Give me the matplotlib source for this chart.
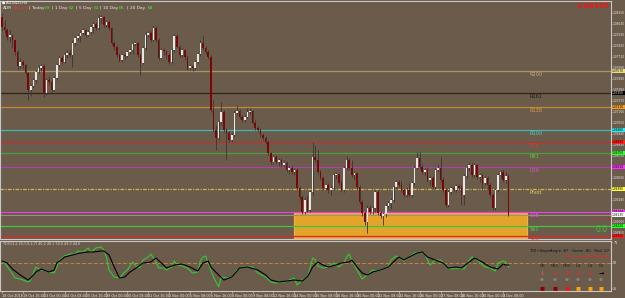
import matplotlib
matplotlib.use('Agg')
import matplotlib.pyplot as plt
import matplotlib.transforms as mtransforms
from matplotlib.patches import Rectangle
import numpy as np

# ---- data (AUDNZD H4) ----
first_open = 1.0811
close = [1.0801, 1.0798, 1.0791, 1.0793, 1.0788, 1.0776, 1.0762, 1.0766, 1.0763, 1.0755,
         1.0738, 1.0742, 1.0748, 1.0756, 1.0760, 1.0762, 1.0735, 1.0748, 1.0746, 1.0738,
         1.0750, 1.0763, 1.0770, 1.0766, 1.0773, 1.0775, 1.0773, 1.0785, 1.0790, 1.0792,
         1.0795, 1.0798, 1.0793, 1.0796, 1.0801, 1.0804, 1.0800, 1.0810, 1.0811, 1.0803,
         1.0806, 1.0800, 1.0785, 1.0781, 1.0773, 1.0768, 1.0773, 1.0772, 1.0776, 1.0778,
         1.0784, 1.0785, 1.0773, 1.0765, 1.0780, 1.0793, 1.0795, 1.0788, 1.0800, 1.0788,
         1.0770, 1.0778, 1.0777, 1.0773, 1.0766, 1.0778, 1.0792, 1.0781, 1.0773, 1.0778,
         1.0771, 1.0760, 1.0762, 1.0760, 1.0766, 1.0774, 1.0785, 1.0780, 1.0776, 1.0771,
         1.0718, 1.0698, 1.0690, 1.0706, 1.0716, 1.0698, 1.0695, 1.0688, 1.0693, 1.0715,
         1.0717, 1.0711, 1.0708, 1.0711, 1.0716, 1.0717, 1.0705, 1.0700, 1.0698, 1.0693,
         1.0690, 1.0686, 1.0675, 1.0666, 1.0671, 1.0666, 1.0668, 1.0663, 1.0665, 1.0658,
         1.0660, 1.0656, 1.0658, 1.0640, 1.0631, 1.0616, 1.0628, 1.0618, 1.0636, 1.0671,
         1.0668, 1.0656, 1.0650, 1.0640, 1.0643, 1.0638, 1.0640, 1.0653, 1.0654, 1.0645,
         1.0638, 1.0660, 1.0668, 1.0660, 1.0653, 1.0655, 1.0641, 1.0626, 1.0615, 1.0606,
         1.0620, 1.0616, 1.0620, 1.0636, 1.0615, 1.0612, 1.0614, 1.0622, 1.0625, 1.0628,
         1.0641, 1.0646, 1.0643, 1.0638, 1.0633, 1.0638, 1.0633, 1.0645, 1.0660, 1.0670,
         1.0661, 1.0656, 1.0658, 1.0648, 1.0650, 1.0641, 1.0658, 1.0660, 1.0648, 1.0638,
         1.0623, 1.0636, 1.0640, 1.0638, 1.0642, 1.0640, 1.0633, 1.0652, 1.0660, 1.0663,
         1.0653, 1.0663, 1.0651, 1.0653, 1.0645, 1.0650, 1.0643, 1.0633, 1.0620, 1.0638,
         1.0653, 1.0656, 1.0648, 1.0652, 1.06135]
high = [1.0815, 1.0808, 1.0800, 1.0798, 1.0792, 1.0788, 1.0778, 1.0770, 1.0768, 1.0764,
        1.0756, 1.0744, 1.0750, 1.0758, 1.0763, 1.0764, 1.0764, 1.0750, 1.0752, 1.0749,
        1.0752, 1.0765, 1.0772, 1.0772, 1.0776, 1.0778, 1.0779, 1.0788, 1.0792, 1.0794,
        1.0798, 1.0800, 1.0799, 1.0798, 1.0803, 1.0806, 1.0806, 1.0813, 1.0813, 1.0812,
        1.0808, 1.0808, 1.0801, 1.0787, 1.0783, 1.0775, 1.0775, 1.0775, 1.0778, 1.0780,
        1.0786, 1.0787, 1.0786, 1.0774, 1.0782, 1.0796, 1.0797, 1.0797, 1.0803, 1.0802,
        1.0790, 1.0780, 1.0780, 1.0778, 1.0775, 1.0780, 1.0794, 1.0794, 1.0783, 1.0780,
        1.0779, 1.0773, 1.0764, 1.0763, 1.0768, 1.0776, 1.0788, 1.0792, 1.0782, 1.0778,
        1.0773, 1.0728, 1.0703, 1.0708, 1.0726, 1.0718, 1.0700, 1.0697, 1.0696, 1.0718,
        1.0723, 1.0719, 1.0713, 1.0713, 1.0720, 1.0720, 1.0718, 1.0708, 1.0702, 1.0700,
        1.0695, 1.0692, 1.0688, 1.0676, 1.0673, 1.0673, 1.0670, 1.0670, 1.0668, 1.0667,
        1.0662, 1.0662, 1.0660, 1.0660, 1.0642, 1.0633, 1.0630, 1.0633, 1.0638, 1.0686,
        1.0683, 1.0678, 1.0658, 1.0652, 1.0645, 1.0645, 1.0642, 1.0655, 1.0656, 1.0655,
        1.0648, 1.0662, 1.0672, 1.0670, 1.0668, 1.0657, 1.0656, 1.0643, 1.0628, 1.0617,
        1.0623, 1.0623, 1.0622, 1.0638, 1.0638, 1.0617, 1.0616, 1.0624, 1.0627, 1.0630,
        1.0643, 1.0648, 1.0648, 1.0647, 1.0640, 1.0641, 1.0645, 1.0647, 1.0662, 1.0676,
        1.0676, 1.0664, 1.0660, 1.0661, 1.0652, 1.0652, 1.0660, 1.0663, 1.0671, 1.0651,
        1.0640, 1.0638, 1.0642, 1.0642, 1.0644, 1.0644, 1.0643, 1.0654, 1.0662, 1.0666,
        1.0665, 1.0665, 1.0664, 1.0655, 1.0655, 1.0652, 1.0652, 1.0645, 1.0635, 1.0640,
        1.0655, 1.0658, 1.0658, 1.0656, 1.0654]
low = [1.0798, 1.0795, 1.0788, 1.0786, 1.0780, 1.0773, 1.0758, 1.0760, 1.0760, 1.0753,
       1.0728, 1.0732, 1.0740, 1.0745, 1.0755, 1.0757, 1.0731, 1.0733, 1.0743, 1.0736,
       1.0737, 1.0748, 1.0761, 1.0764, 1.0765, 1.0770, 1.0771, 1.0761, 1.0783, 1.0787,
       1.0786, 1.0793, 1.0791, 1.0792, 1.0794, 1.0795, 1.0798, 1.0798, 1.0805, 1.0801,
       1.0801, 1.0798, 1.0783, 1.0778, 1.0771, 1.0766, 1.0766, 1.0769, 1.0771, 1.0774,
       1.0774, 1.0782, 1.0771, 1.0753, 1.0764, 1.0778, 1.0791, 1.0786, 1.0787, 1.0786,
       1.0768, 1.0769, 1.0773, 1.0770, 1.0764, 1.0765, 1.0776, 1.0780, 1.0771, 1.0771,
       1.0768, 1.0758, 1.0758, 1.0757, 1.0758, 1.0765, 1.0772, 1.0778, 1.0774, 1.0769,
       1.0716, 1.0696, 1.0678, 1.0688, 1.0703, 1.0696, 1.0668, 1.0686, 1.0686, 1.0691,
       1.0713, 1.0709, 1.0706, 1.0706, 1.0710, 1.0714, 1.0704, 1.0698, 1.0696, 1.0691,
       1.0688, 1.0684, 1.0673, 1.0664, 1.0664, 1.0664, 1.0662, 1.0661, 1.0661, 1.0656,
       1.0654, 1.0654, 1.0653, 1.0638, 1.0628, 1.0614, 1.0614, 1.0616, 1.0616, 1.0633,
       1.0666, 1.0654, 1.0648, 1.0638, 1.0638, 1.0635, 1.0633, 1.0638, 1.0649, 1.0643,
       1.0636, 1.0636, 1.0658, 1.0658, 1.0651, 1.0648, 1.0639, 1.0624, 1.0612, 1.0603,
       1.0595, 1.0614, 1.0614, 1.0616, 1.0613, 1.0610, 1.0603, 1.0611, 1.0620, 1.0619,
       1.0626, 1.0639, 1.0641, 1.0636, 1.0631, 1.0631, 1.0631, 1.0631, 1.0643, 1.0658,
       1.0659, 1.0654, 1.0653, 1.0646, 1.0643, 1.0639, 1.0639, 1.0656, 1.0646, 1.0636,
       1.0621, 1.0621, 1.0634, 1.0636, 1.0636, 1.0638, 1.0623, 1.0623, 1.0650, 1.0657,
       1.0651, 1.0651, 1.0649, 1.0646, 1.0638, 1.0643, 1.0638, 1.0631, 1.0618, 1.0618,
       1.0636, 1.0650, 1.0646, 1.0645, 1.0612]

time_labels = ['18 Oct 2018', '19 Oct 16:00', '23 Oct 00:00', '24 Oct 08:00', '25 Oct 16:00',
               '29 Oct 00:00', '30 Oct 08:00', '31 Oct 16:00', '2 Nov 00:00', '5 Nov 08:00',
               '6 Nov 16:00', '8 Nov 00:00', '9 Nov 08:00', '12 Nov 16:00', '14 Nov 00:00',
               '15 Nov 08:00', '16 Nov 16:00', '20 Nov 00:00', '21 Nov 08:00', '22 Nov 16:00',
               '26 Nov 00:00', '27 Nov 08:00', '28 Nov 16:00', '30 Nov 00:00', '3 Dec 08:00']
label_step = 8

# pivot / fib levels
level_names = ['R200', 'R161', 'R138', 'R100', 'R76', 'R61', 'R38', 'Pivot', 'S38', 'S61', 'S76']
level_prices = [1.0757, 1.0735, 1.0721, 1.0698, 1.0686, 1.0675, 1.0661, 1.0639, 1.0616, 1.0602, 1.0592]
level_colors = ['#a8946a', '#2e241c', '#c08a34', '#3cb8b8', '#b83232', '#4aa03c', '#b040a4',
                '#d0b850', '#e040e0', '#40c43c', '#e02828']
label_colors = ['#c8b080', '#1e1812', '#e0a040', '#50d0d0', '#e03a3a', '#50d040', '#d050c8',
                '#e8d060', '#e050e0', '#50d040', '#e83030']
box_colors = ['#e8dc80', '#000000', '#f0a020', '#30e8e8', '#ff2020', '#30ff30', '#ff30ff',
              '#ffff40', '#ff30ff', '#30ff30', '#ff2020']
bid = 1.06135
zone_start, zone_end = 112, 201
zone_low, zone_high = 1.0590, 1.0615
stop_price = 1.0609

# TDI
green_idx = [0, 1, 3, 5, 7, 10, 11, 12, 13, 15, 16, 18, 20, 21, 22, 24, 26, 28, 29, 31, 33, 34, 36, 38, 39,
             40, 41, 43, 45, 47, 48, 50, 52, 53, 54, 56, 57, 59, 60, 62, 63, 65, 66, 67, 69, 71, 73, 75,
             76, 77, 78, 79, 81, 83, 84, 86, 88, 90, 92, 94, 96, 98, 101, 103, 105, 107, 108, 110, 112,
             113, 115, 117, 119, 120, 121, 123, 125, 127, 129, 131, 132, 133, 134, 136, 138, 140, 142,
             144, 146, 148, 149, 151, 152, 154, 156, 158, 160, 162, 164, 166, 168, 170, 172, 174, 177,
             179, 180, 182, 184, 185, 187, 189, 190, 192, 193, 194]
green_val = [52, 50, 43, 35, 34, 31, 33, 40, 46, 43, 43, 41, 40, 46, 53, 57, 59, 59, 62, 61, 65, 61, 65, 66, 63,
             56, 43, 36, 35, 41, 43, 51, 45, 46, 53, 56, 59, 51, 45, 45, 43, 46, 52, 48, 47, 45, 40, 41,
             52, 56, 57, 50, 36, 26, 36, 35, 36, 43, 46, 46, 46, 40, 36, 31, 30, 31, 31, 33, 35,
             28, 33, 35, 55, 53, 47, 45, 46, 50, 46, 50, 56, 59, 53, 43, 34, 38, 43,
             42, 44, 46, 53, 57, 56, 52, 56, 60, 61, 59, 48, 53, 53, 48, 44, 45, 44,
             53, 56, 53, 48, 46, 45, 42, 50, 52, 51, 46]
black_idx = [0, 2, 4, 7, 10, 11, 13, 15, 18, 20, 21, 24, 27, 30, 33, 35, 38, 39, 41, 43, 45, 47, 49, 52, 54,
             57, 59, 61, 63, 66, 69, 72, 75, 77, 79, 80, 83, 85, 88, 91, 94, 98, 101, 103, 106, 109, 112,
             115, 117, 119, 121, 123, 125, 128, 130, 133, 134, 136, 138, 140, 142, 145, 148, 150, 152,
             154, 156, 159, 161, 163, 166, 169, 171, 174, 176, 179, 181, 184, 187, 190, 192, 193, 194]
black_val = [52, 50, 44, 38, 33, 35, 41, 44, 41, 43, 50, 56, 58, 60, 61, 61, 62, 62, 58, 46, 35, 36, 41, 46, 50,
             51, 55, 50, 45, 48, 49, 46, 42, 50, 52, 46, 38, 33, 36, 45, 46, 43, 38, 33, 31, 32, 33,
             32, 36, 46, 51, 48, 46, 48, 50, 51, 53, 46, 40, 38, 41, 43, 46, 51, 56,
             53, 56, 60, 61, 56, 53, 50, 45, 46, 45, 51, 55, 51, 46, 44, 49, 48, 48]

timeframes = ['M5', 'M15', 'M30', 'H1', 'H4', 'D1']
tf_arrows = ['↓', '↓', '↓', '↓', '↓', '→']
tf_arrow_colors = ['#c86060', '#ff2020', '#ff2020', '#ff2020', '#ff2020', '#000000']
tf_squares = ['#8b0000', '#8b0000', '#ff1010', '#ffa500', '#ffa500', '#ffa500']

# ---- figure ----
bg = '#6b5b4b'
frame = '#c8c8c8'
W, H = 625, 298
fig = plt.figure(figsize=(6.25, 2.98), dpi=100, facecolor=bg)


def px_box(x0, y0, x1, y1):
    return [x0 / W, 1 - y1 / H, (x1 - x0) / W, (y1 - y0) / H]


def ftext(x, y, s, **kw):
    fig.text(x / W, 1 - y / H, s, **kw)


xlim = (-0.77, 233.3)

ax = fig.add_axes(px_box(0, 1, 611, 239))
ax.set_facecolor(bg)
ax.set_xlim(*xlim)
ax.set_ylim(1.0589, 1.0827)
for s in ax.spines.values():
    s.set_color(frame)
    s.set_linewidth(0.8)

# zone
ax.add_patch(Rectangle((zone_start, zone_low), zone_end - zone_start, zone_high - zone_low,
                       facecolor='#e2a42a', edgecolor='#f4b23c', lw=0.9, zorder=1))

# levels
for name, p, col, lc in zip(level_names, level_prices, level_colors, label_colors):
    ls = (0, (3, 1, 1, 1)) if name == 'Pivot' else '-'
    ax.axhline(p, color=col, lw=0.9, ls=ls, zorder=2)
    ax.text(202, p - 0.00008, name, color=lc, fontsize=3.6, va='top', ha='left', zorder=5)
ax.axhline(bid, color='#9a9088', lw=0.7, zorder=2)

# candles
n = len(close)
idx = np.arange(n)
opens = np.array([first_open] + close[:-1])
closes = np.array(close)
bull = closes >= opens
ax.vlines(idx, low, high, color='#3a3632', lw=0.6, zorder=3)
bottoms = np.minimum(opens, closes)
heights = np.maximum(np.abs(closes - opens), 0.00004)
ax.bar(idx, heights, bottom=bottoms, width=0.62,
       color=np.where(bull, '#e6e6e6', '#7c0606'), lw=0, zorder=4)

# stop line + 0.0
trans = mtransforms.blended_transform_factory(ax.transAxes, ax.transData)
ax.plot([0.962, 0.994], [stop_price, stop_price], transform=trans, color='#e02020', ls=':', lw=0.6)
ax.plot([0.996], [stop_price], transform=trans, marker='+', color='#e02020', ms=2.5, mew=0.5)
ftext(595, 229, '0.0', color='#38c838', fontsize=5.5, va='center')

# price axis
ax.yaxis.tick_right()
ticks = np.arange(1.0595, 1.0825, 0.0011)
ax.set_yticks(ticks)
ax.set_yticklabels([f'{t:.5f}' for t in ticks])
ax.tick_params(axis='y', labelsize=2.05, colors='#e8e8e8', length=1.0, width=0.4, pad=0.4)
ax.set_xticks([])
for p, col in zip(level_prices + [bid], box_colors + ['#ffffff']):
    ax.text(1.0018, p, f'{p:.5f}', transform=trans, fontsize=2.05, va='center', ha='left',
            color='white' if col == '#000000' else 'black', zorder=10, clip_on=False,
            bbox=dict(boxstyle='square,pad=0.15', fc=col, ec='none'))

# header texts
ftext(2, 3, '■', color='white', fontsize=2.5, va='center')
ftext(6, 3, 'AUDNZD,H4', color='white', fontsize=2.6, va='center')
header = [(3, 'ADR', '#e8e8e8'), (13, '106.1%', '#ff3030'), (29, '| Today', '#e8e8e8'),
          (45, '63', '#30ff30'), (52, '| 1 Day', '#e8e8e8'), (69, '62', '#30ff30'),
          (76, '| 5 Day', '#e8e8e8'), (94, '61', '#30ff30'), (100, '| 10 Day', '#e8e8e8'),
          (119, '66', '#30ff30'), (127, '| 20 Day', '#e8e8e8'), (148, '68', '#30ff30')]
for x, s, c in header:
    ftext(x, 8, s, color=c, fontsize=3.2, va='center')
ftext(609, 6, '1.06135', color='#ff1010', fontsize=5.2, fontweight='bold', ha='right', va='center')

# ---- TDI panel ----
ax2 = fig.add_axes(px_box(0, 241, 611, 291))
ax2.set_facecolor(bg)
ax2.set_xlim(*xlim)
ax2.set_ylim(22, 72)
for s in ax2.spines.values():
    s.set_color(frame)
    s.set_linewidth(0.8)
ax2.axhline(50, color='#c8823c', lw=0.7, ls=(0, (4, 2)))
ax2.plot(green_idx, green_val, color='#34c834', lw=0.8)
ax2.plot(black_idx, black_val, color='#000000', lw=0.8)
ax2.yaxis.tick_right()
ax2.set_yticks([25, 50, 71])
ax2.tick_params(axis='y', labelsize=2.4, colors='#e8e8e8', length=1.0, width=0.4, pad=0.6)
ax2.set_xticks(np.arange(len(time_labels)) * label_step)
ax2.set_xticklabels(time_labels, ha='left')
ax2.tick_params(axis='x', labelsize=2.4, colors='#e8e8e8', length=1.5, width=0.4, pad=0.6)

ftext(3, 244, 'TDI(13,2,34,7,0,2,7) 46.2 48.1 50.0 49.3 44.6', color='#d8d8d8', fontsize=2.4, va='center')
ftext(609, 251, 'TDI+SlopeAngle -87   Green -80   Red -27', color='#111111', fontsize=2.7,
      ha='right', va='center')
ftext(609, 256, 'TDI Cross=DOWN [2.6]', color='#ff2020', fontsize=2.7, ha='right', va='center')
tf_x = [542, 555, 567, 578, 590, 601]
for x, tf, ar, ac, sq in zip(tf_x, timeframes, tf_arrows, tf_arrow_colors, tf_squares):
    ftext(x, 266, tf, color='#2a2420', fontsize=2.8, ha='center', va='center')
    ftext(x, 273, ar, color=ac, fontsize=4.5, ha='center', va='center', fontweight='bold')
    ftext(x, 280, '●', color='#8a8078', fontsize=3.2, ha='center', va='center')
    ftext(x, 288, '■', color=sq, fontsize=3.8, ha='center', va='center')

fig.savefig('out.png', dpi=100, facecolor=bg)
